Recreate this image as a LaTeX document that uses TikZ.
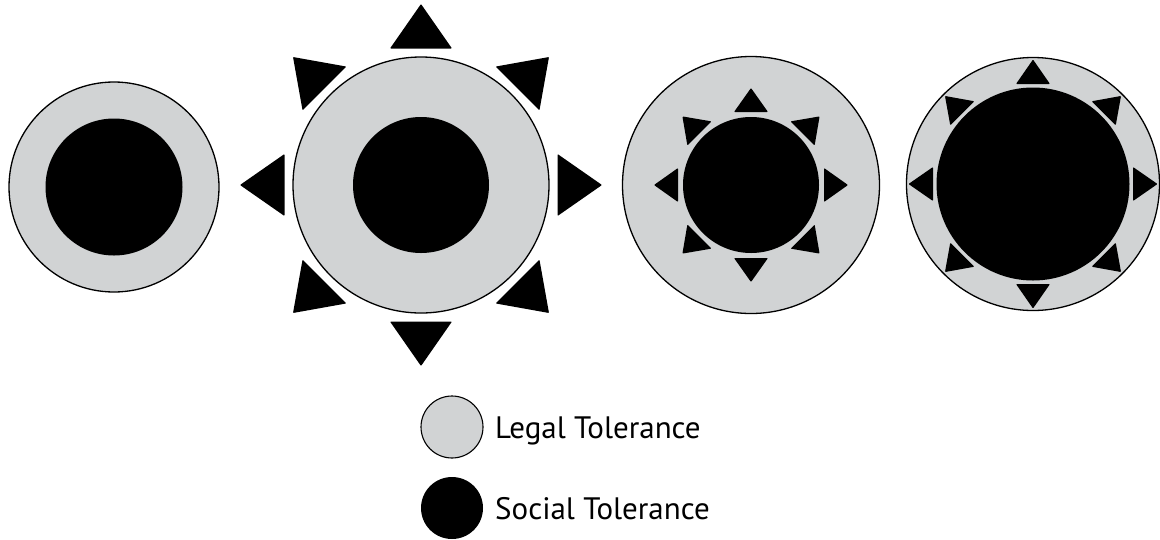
\documentclass[tikz,border=0pt]{standalone}
\usepackage{fontspec}
\setmainfont{PT Sans}
\definecolor{legalgray}{RGB}{209,211,212}
\tikzset{
  x=1pt, y=-1pt,
  legal/.style={circle, fill=legalgray, draw=black, line width=1.3pt, inner sep=0pt, outer sep=0pt},
  social/.style={circle, fill=black, inner sep=0pt, outer sep=0pt},
  arrowtri/.style={fill=black, rounded corners=0.8pt},
  legendtext/.style={anchor=base west, inner sep=0pt, font=\fontsize{31}{34}\selectfont}
}
\begin{document}
\begin{tikzpicture}
\useasboundingbox (0,0) rectangle (1160,539);
% --- figure 1
\node[legal, minimum size=210pt] (l1) at (114,187) {};
\node[social, minimum size=137pt] (s1) at (114,187) {};
% --- figure 2
\node[legal, minimum size=256pt] (l2) at (421,185) {};
\node[social, minimum size=136pt] (s2) at (421,185) {};
\foreach \a in {0,45,...,315}
  \fill[arrowtri, shift={(l2.center)}, rotate=\a] (136.5,31) -- (181,0) -- (136.5,-31) -- cycle;
% --- figure 3
\node[legal, minimum size=257pt] (l3) at (751,185) {};
\node[social, minimum size=136pt] (s3) at (751,185) {};
\foreach \a in {0,45,...,315}
  \fill[arrowtri, shift={(s3.center)}, rotate=\a] (73,17) -- (97,0) -- (73,-17) -- cycle;
% --- figure 4
\node[legal, minimum size=253pt] (l4) at (1033,184) {};
\node[social, minimum size=193pt] (s4) at (1033,184) {};
\foreach \a in {0,45,...,315}
  \fill[arrowtri, shift={(s4.center)}, rotate=\a] (100,17) -- (124.5,0) -- (100,-17) -- cycle;
% --- legend
\node[legal, minimum size=62pt, line width=1.1pt] (kl) at (452,427) {};
\node[social, minimum size=62pt] (ks) at (452,508) {};
\node[legendtext] (tl) at (495,438) {Legal Tolerance};
\node[legendtext] (ts) at (495,519) {Social Tolerance};
\end{tikzpicture}
\end{document}
